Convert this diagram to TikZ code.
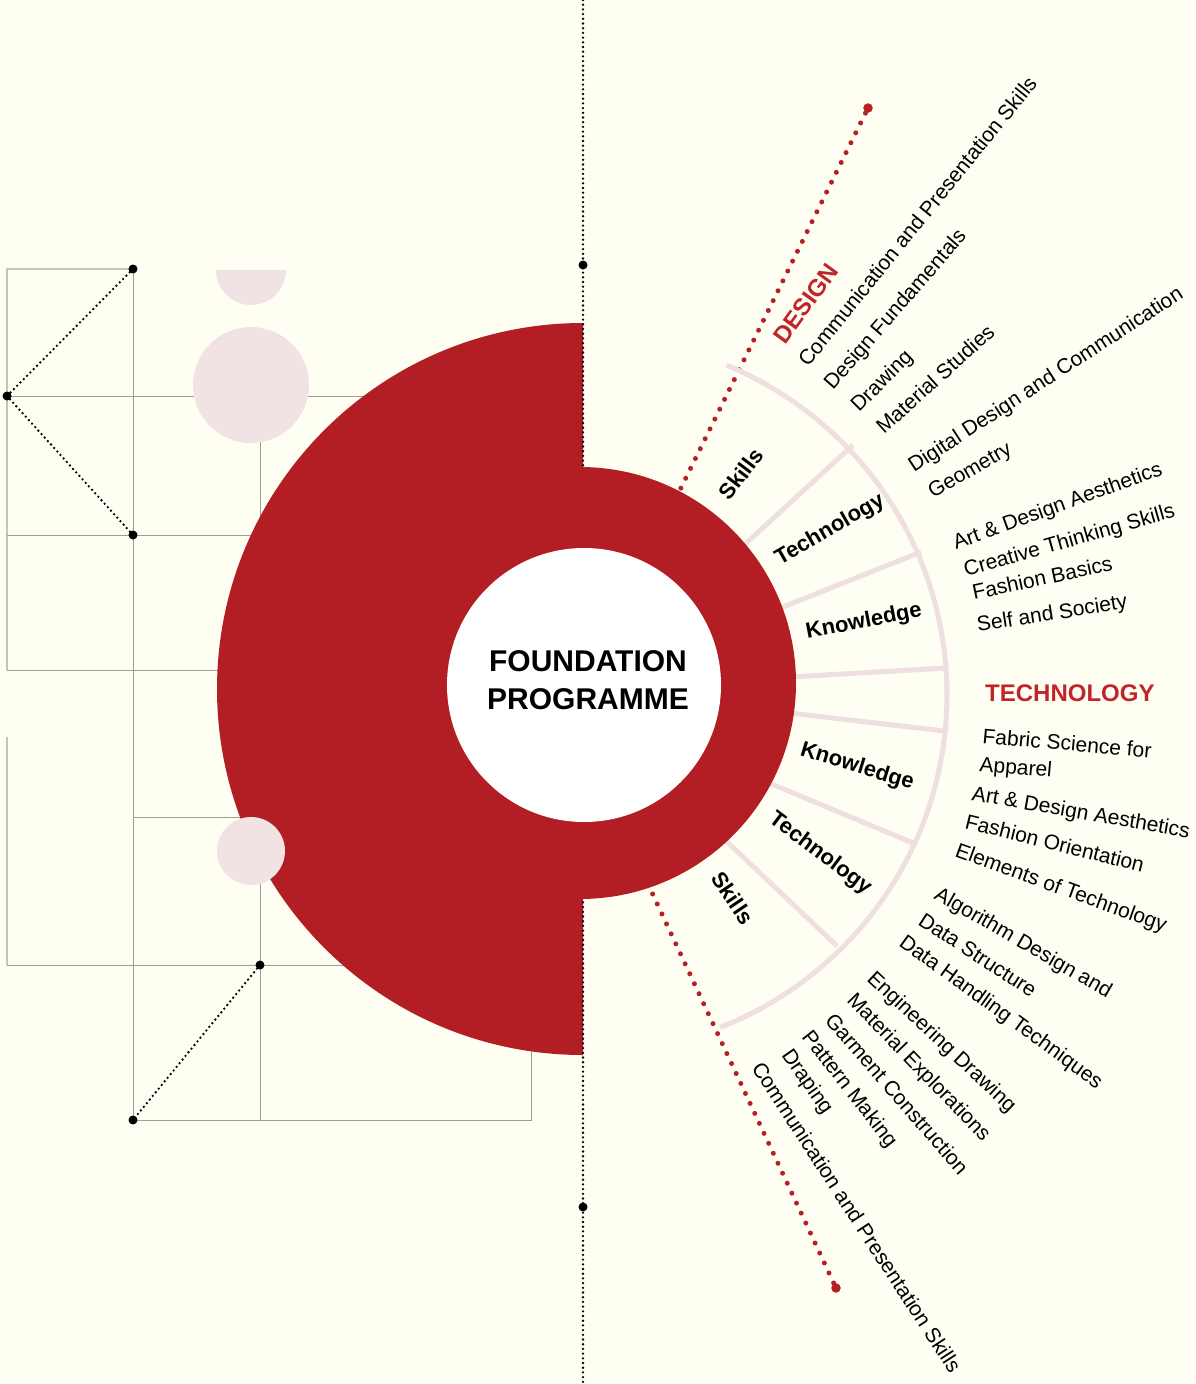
\documentclass[tikz,border=0pt]{standalone}
\usepackage{fontspec}
\setmainfont{Liberation Sans}
\definecolor{bgc}{HTML}{FEFEF2}
\definecolor{redc}{HTML}{B21E23}
\definecolor{reddot}{HTML}{B71F25}
\definecolor{headred}{HTML}{C0252B}
\definecolor{pinkc}{HTML}{F1E3E4}
\definecolor{pinkl}{HTML}{EFDFE1}
\definecolor{gridc}{HTML}{9E9E95}
\definecolor{gridlc}{HTML}{C4C4B9}
\begin{document}
\begin{tikzpicture}[x=1pt,y=-1pt,
  gridln/.style={draw=gridc, line width=1pt},
  gridlt/.style={draw=gridlc, line width=1.6pt},
  bdots/.style={draw=black, line width=2.6pt, dash pattern=on 0pt off 4.7pt, line cap=round},
  rdots/.style={draw=reddot, line width=5pt, dash pattern=on 0pt off 11pt, line cap=round},
  bdot/.style={circle, fill=black, inner sep=0pt, minimum size=9pt},
  rdot/.style={circle, fill=reddot, inner sep=0pt, minimum size=9.5pt},
  pinkln/.style={draw=pinkl, line width=5pt},
  seglabel/.style={font=\fontsize{22}{26}\selectfont\bfseries, inner sep=0pt},
  listitem/.style={font=\fontsize{21}{25}\selectfont, inner sep=0pt, anchor=base west},
  headlabel/.style={font=\fontsize{24}{28}\selectfont\bfseries, text=headred, inner sep=0pt, anchor=base west}
]
% background
\fill[bgc] (0,0) rectangle (1195,1384);
\useasboundingbox (0,0) rectangle (1195,1384);

% grid lines
\draw[gridlt] (7,670) -- (7,269) -- (133,269);
\draw[gridlt] (7,737) -- (7,965);
\draw[gridln] (133,269) -- (133,1120) -- (531,1120) -- (531,1030);
\draw[gridln] (7,396) -- (420,396);
\draw[gridln] (7,535) -- (320,535);
\draw[gridln] (7,670) -- (260,670);
\draw[gridln] (260,396) -- (260,1120);
\draw[gridln] (7,965) -- (420,965);
\draw[gridln] (133,817) -- (300,817);

% pink circles (top)
\begin{scope}
  \clip (200,270) rectangle (300,320);
  \fill[pinkc] (251,270) circle[radius=35];
\end{scope}
\fill[pinkc] (251,385) circle[radius=58];

% black dotted diagonals
\coordinate (g1) at (133,269);
\coordinate (g2) at (7,396);
\coordinate (g3) at (133,535);
\coordinate (g4) at (260,965);
\coordinate (g5) at (133,1120);
\draw[bdots] (g1) -- (g2) -- (g3);
\draw[bdots] (g4) -- (g5);
\foreach \p in {g1,g2,g3,g4,g5} \node[bdot] at (\p) {};

% big red half disc
\begin{scope}
  \clip (0,0) rectangle (583,1384);
  \fill[redc] (583,689) circle[radius=366];
\end{scope}
\fill[pinkc] (251,851) circle[radius=34];

% vertical dotted axis
\coordinate (vtop) at (583,0);
\coordinate (vbot) at (583,1384);
\draw[bdots] (vtop) -- (vbot);
\node[bdot] (vd1) at (583,265) {};
\node[bdot] (vd2) at (583,1207) {};

% red dotted rays
\coordinate (ru0) at (676,498);
\node[rdot] (ru1) at (868,108) {};
\coordinate (rl0) at (648,884);
\node[rdot] (rl1) at (836,1288) {};
\draw[rdots] (ru0) -- (ru1.center);
\draw[rdots] (rl0) -- (rl1.center);

% pink dividers
\draw[pinkln] (742,547) -- (853,445);
\draw[pinkln] (778,609) -- (921,552);
\draw[pinkln] (790,677) -- (946,668);
\draw[pinkln] (790,713) -- (944,731);
\draw[pinkln] (762,780) -- (913,843);
\draw[pinkln] (723,838) -- (837,946);
\draw[pinkln] plot[domain=-67.5:68.6, samples=120] ({590+357*cos(\x)}, {695+357*sin(\x)});

% red ring and white core
\fill[redc] (580,683) circle[radius=216];
\fill[white] (584,685) circle[radius=137];
\node[align=center, font=\fontsize{30}{38}\selectfont\bfseries, inner sep=0pt] (core) at (588,680) {FOUNDATION\\PROGRAMME};

% segment labels
\node[seglabel, rotate=53] (s1) at (741,474) {Skills};
\node[seglabel, rotate=30] (t1) at (830,530) {Technology};
\node[seglabel, rotate=11] (k1) at (864,622) {Knowledge};
\node[seglabel, rotate=-17] (k2) at (857,767) {Knowledge};
\node[seglabel, rotate=-37] (t2) at (820,854) {Technology};
\node[seglabel, rotate=-56] (s2) at (733,898) {Skills};

% headings
\node[headlabel, rotate=54] (design) at (785,346) {DESIGN};
\node[headlabel] (tech) at (985,701) {TECHNOLOGY};

% design list
\node[listitem, rotate=51] (u1) at (808,368) {Communication and Presentation Skills};
\node[listitem, rotate=49] (u2) at (833,391) {Design Fundamentals};
\node[listitem, rotate=45] (u3) at (859,413) {Drawing};
\node[listitem, rotate=42] (u4) at (884,435) {Material Studies};
\node[listitem, rotate=33] (u5) at (914,473) {Digital Design and Communication};
\node[listitem, rotate=30] (u6) at (933,499) {Geometry};
\node[listitem, rotate=20] (u7) at (956,550) {Art \& Design Aesthetics};
\node[listitem, rotate=16] (u8) at (966,577) {Creative Thinking Skills};
\node[listitem, rotate=12] (u9) at (974,600) {Fashion Basics};
\node[listitem, rotate=9] (u10) at (978,632) {Self and Society};

% technology list
\node[listitem, rotate=-5] (l1) at (982,743) {Fabric Science for};
\node[listitem, rotate=-5] (l2) at (979,771) {Apparel};
\node[listitem, rotate=-10] (l3) at (971,800) {Art \& Design Aesthetics};
\node[listitem, rotate=-14] (l4) at (964,828) {Fashion Orientation};
\node[listitem, rotate=-20] (l5) at (954,856) {Elements of Technology};
\node[listitem, rotate=-30] (l6) at (933,898) {Algorithm Design and};
\node[listitem, rotate=-33] (l7) at (917,924) {Data Structure};
\node[listitem, rotate=-36] (l8) at (898,945) {Data Handling Techniques};
\node[listitem, rotate=-43] (l9) at (866,980) {Engineering Drawing};
\node[listitem, rotate=-46] (l10) at (846,1001) {Material Explorations};
\node[listitem, rotate=-49] (l11) at (824,1021) {Garment Construction};
\node[listitem, rotate=-52] (l12) at (801,1037) {Pattern Making};
\node[listitem, rotate=-55] (l13) at (781,1055) {Draping};
\node[listitem, rotate=-57] (l14) at (751,1068) {Communication and Presentation Skills};
\end{tikzpicture}
\end{document}
